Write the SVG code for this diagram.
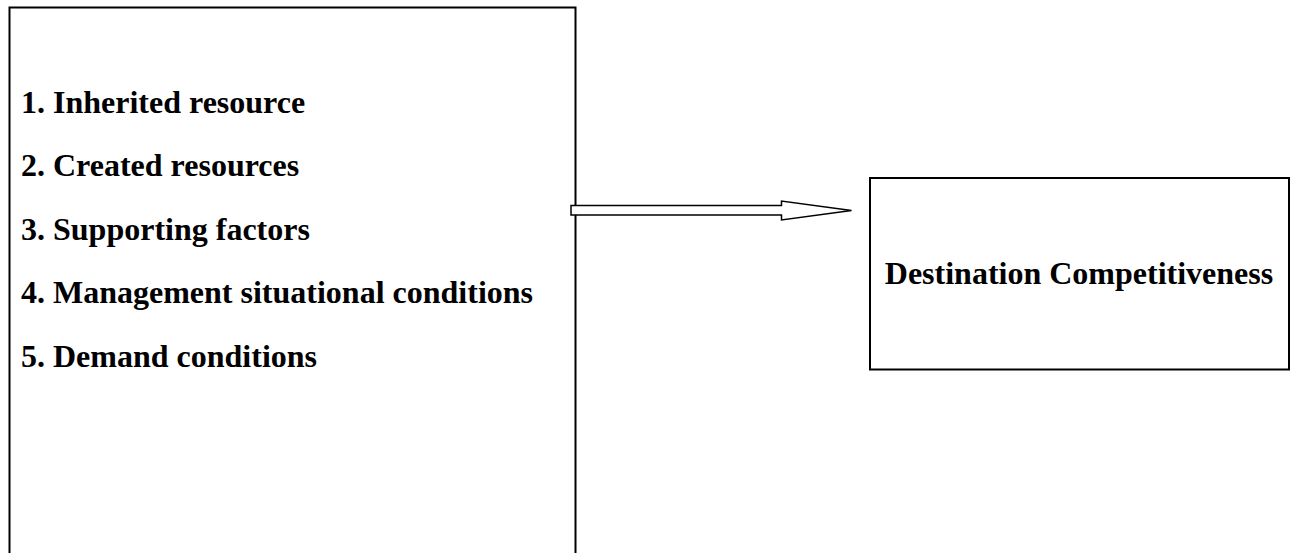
<svg xmlns="http://www.w3.org/2000/svg" width="1291" height="553" viewBox="0 0 1291 553">
  <style>
    .box { fill: #ffffff; stroke: #000000; stroke-width: 2; }
    .lbl { font-family: "Liberation Serif", "Times New Roman", serif; font-weight: bold; font-size: 32px; fill: #000000; }
    .arrow { fill: #ffffff; stroke: #000000; stroke-width: 1.5; stroke-linejoin: miter; }
  </style>
  <rect x="0" y="0" width="1291" height="553" fill="#ffffff"/>
  <g id="factors">
    <path class="box" d="M9.5,560 L9.5,7.5 L575.5,7.5 L575.5,560"/>
    <text class="lbl" x="21" y="113">1. Inherited resource</text>
    <text class="lbl" x="21" y="176">2. Created resources</text>
    <text class="lbl" x="21" y="240">3. Supporting factors</text>
    <text class="lbl" x="21" y="303">4. Management situational conditions</text>
    <text class="lbl" x="21" y="367">5. Demand conditions</text>
  </g>
  <g id="competitiveness">
    <rect class="box" x="870" y="178" width="419" height="191.5"/>
    <text class="lbl" x="1079" y="284" text-anchor="middle">Destination Competitiveness</text>
  </g>
  <g id="connectors">
    <path class="arrow" d="M571,205.5 L781.5,205.5 L781.5,201 L851.5,210.5 L781.5,220 L781.5,215 L571,215 Z"/>
  </g>
</svg>
